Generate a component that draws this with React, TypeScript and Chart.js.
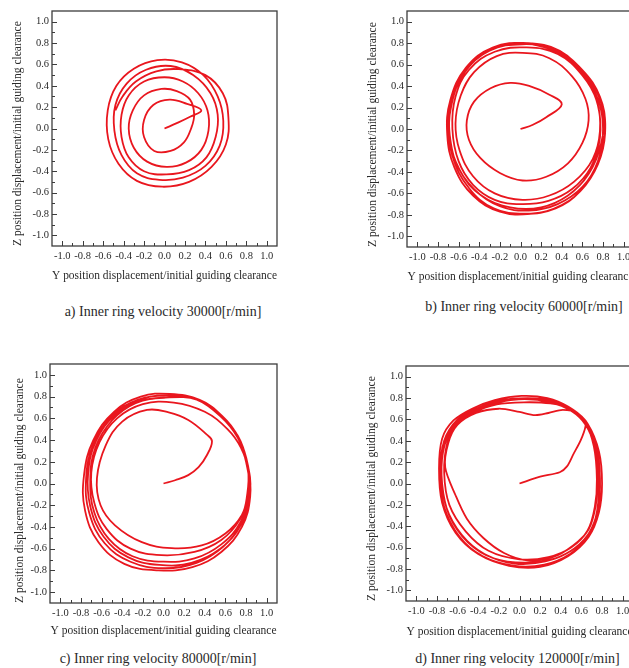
import React, { useEffect, useRef } from "react";
import { Chart, registerables } from "chart.js";

Chart.register(...registerables);

// ---------- data ----------
const TICK_VALUES = [-1.0, -0.8, -0.6, -0.4, -0.2, 0.0, 0.2, 0.4, 0.6, 0.8, 1.0];
const TICK_LABELS = ["-1.0", "-0.8", "-0.6", "-0.4", "-0.2", "0.0", "0.2", "0.4", "0.6", "0.8", "1.0"];
const MINOR_TICK_VALUES = [-0.9, -0.7, -0.5, -0.3, -0.1, 0.1, 0.3, 0.5, 0.7, 0.9];
const AXIS_MIN = -1.1;
const AXIS_MAX = 1.1;

const X_TITLE = "Y position displacement/initial guiding clearance";
const Y_TITLE = "Z position displacement/initial guiding clearance";
const CAPTIONS = [
  "a) Inner ring velocity 30000[r/min]",
  "b) Inner ring velocity 60000[r/min]",
  "c) Inner ring velocity 80000[r/min]",
  "d) Inner ring velocity 120000[r/min]",
];

// [Y displacement, Z displacement] pairs
const ORBIT_30000: [number, number][] = [
  [0, 0], [0.12, 0.05], [0.25, 0.11], [0.36, 0.17], [0.22, 0.23], [0.05, 0.27], [-0.11, 0.22],
  [-0.2, 0.08], [-0.2, -0.08], [-0.1, -0.21], [0.06, -0.21], [0.19, -0.13], [0.26, 0.0], [0.29, 0.13],
  [0.25, 0.27], [0.12, 0.35], [-0.03, 0.37], [-0.2, 0.31], [-0.31, 0.17], [-0.35, 0.0], [-0.3, -0.18],
  [-0.17, -0.31], [0.02, -0.36], [0.21, -0.32], [0.36, -0.2], [0.43, -0.02], [0.42, 0.17], [0.33, 0.33],
  [0.18, 0.44], [0.0, 0.48], [-0.2, 0.44], [-0.35, 0.31], [-0.42, 0.13], [-0.42, -0.08], [-0.35, -0.27],
  [-0.2, -0.4], [0.02, -0.43], [0.24, -0.39], [0.41, -0.27], [0.5, -0.08], [0.52, 0.13], [0.45, 0.33],
  [0.28, 0.5], [0.06, 0.585], [-0.18, 0.55], [-0.37, 0.42], [-0.48, 0.22], [-0.49, -0.02], [-0.42, -0.25],
  [-0.27, -0.42], [-0.05, -0.48], [0.18, -0.46], [0.4, -0.35], [0.54, -0.16], [0.575, 0.07], [0.52, 0.3],
  [0.38, 0.5], [0.17, 0.62], [-0.07, 0.64], [-0.3, 0.56], [-0.47, 0.4], [-0.555, 0.17], [-0.55, -0.1],
  [-0.45, -0.33], [-0.27, -0.49], [-0.02, -0.545], [0.24, -0.5], [0.46, -0.36], [0.6, -0.15], [0.625, 0.1],
  [0.57, 0.33], [0.4, 0.5], [0.14, 0.555], [-0.08, 0.535], [-0.28, 0.44], [-0.41, 0.3], [-0.48, 0.17],
];

const ORBIT_60000: [number, number][] = [
  [0, 0], [0.12, 0.04], [0.25, 0.11], [0.4, 0.23], [0.28, 0.32], [0.09, 0.4], [-0.1, 0.43], [-0.29, 0.38],
  [-0.45, 0.255], [-0.52, 0.08], [-0.5, -0.1], [-0.39, -0.27], [-0.2, -0.41], [0.02, -0.48], [0.25, -0.445],
  [0.46, -0.32], [0.6, -0.13], [0.66, 0.08], [0.63, 0.28], [0.5, 0.49], [0.28, 0.66], [0.02, 0.71],
  [-0.23, 0.68], [-0.45, 0.53], [-0.58, 0.31], [-0.63, 0.05], [-0.59, -0.2], [-0.46, -0.44], [-0.25, -0.6],
  [0.02, -0.66], [0.28, -0.62], [0.52, -0.49], [0.7, -0.28], [0.77, -0.02], [0.74, 0.26], [0.6, 0.5],
  [0.36, 0.7], [0.06, 0.76], [-0.25, 0.72], [-0.5, 0.55], [-0.63, 0.3], [-0.66, 0.0], [-0.6, -0.3],
  [-0.46, -0.52], [-0.25, -0.66], [0.0, -0.7], [0.27, -0.67], [0.5, -0.56], [0.68, -0.36], [0.77, -0.08],
  [0.75, 0.22], [0.62, 0.5], [0.38, 0.73], [0.06, 0.8], [-0.27, 0.76], [-0.53, 0.57], [-0.68, 0.27],
  [-0.71, -0.05], [-0.64, -0.36], [-0.46, -0.62], [-0.2, -0.77], [0.1, -0.79], [0.4, -0.71], [0.62, -0.53],
  [0.77, -0.27], [0.82, 0.02], [0.77, 0.3], [0.6, 0.55], [0.34, 0.74], [0.02, 0.79], [-0.3, 0.73],
  [-0.54, 0.53], [-0.67, 0.22], [-0.68, -0.1], [-0.58, -0.4], [-0.38, -0.62], [-0.1, -0.73], [0.2, -0.73],
  [0.46, -0.62], [0.66, -0.42], [0.78, -0.14], [0.8, 0.16], [0.68, 0.44], [0.45, 0.66], [0.16, 0.78],
  [-0.16, 0.78], [-0.44, 0.64], [-0.63, 0.4], [-0.7, 0.08], [-0.66, -0.25], [-0.5, -0.55], [-0.26, -0.74],
  [0.04, -0.79], [0.34, -0.74], [0.58, -0.58], [0.75, -0.33], [0.82, -0.04], [0.78, 0.26], [0.62, 0.52],
  [0.38, 0.72], [0.08, 0.8], [-0.24, 0.76], [-0.5, 0.58], [-0.66, 0.3], [-0.7, 0.0], [-0.63, -0.3],
  [-0.45, -0.56], [-0.2, -0.72], [0.08, -0.76], [0.36, -0.7], [0.6, -0.54], [0.75, -0.3], [0.8, 0.0],
  [0.75, 0.28], [0.6, 0.52], [0.34, 0.73],
];

const ORBIT_80000: [number, number][] = [
  [0, 0], [0.113, 0.03], [0.24, 0.077], [0.34, 0.15], [0.42, 0.26], [0.47, 0.39], [0.42, 0.45], [0.24, 0.585],
  [0.05, 0.655], [-0.16, 0.677], [-0.4, 0.57], [-0.56, 0.35], [-0.645, 0.05], [-0.61, -0.2], [-0.47, -0.385],
  [-0.21, -0.54], [0.08, -0.595], [0.37, -0.57], [0.6, -0.46], [0.76, -0.29], [0.81, -0.11], [0.82, 0.12],
  [0.75, 0.33], [0.62, 0.5], [0.4, 0.66], [0.1, 0.745], [-0.2, 0.73], [-0.45, 0.6], [-0.62, 0.38],
  [-0.7, 0.1], [-0.67, -0.18], [-0.55, -0.42], [-0.32, -0.6], [-0.02, -0.66], [0.3, -0.63], [0.56, -0.52],
  [0.74, -0.33], [0.83, -0.08], [0.81, 0.18], [0.72, 0.42], [0.55, 0.62], [0.3, 0.78], [0.04, 0.81],
  [-0.25, 0.77], [-0.5, 0.62], [-0.68, 0.36], [-0.75, 0.05], [-0.72, -0.27], [-0.57, -0.55], [-0.32, -0.72],
  [0.0, -0.78], [0.32, -0.73], [0.58, -0.58], [0.76, -0.36], [0.84, -0.08], [0.81, 0.2], [0.72, 0.44],
  [0.55, 0.63], [0.33, 0.77], [0.02, 0.79], [-0.27, 0.74], [-0.5, 0.58], [-0.66, 0.33], [-0.71, 0.03],
  [-0.67, -0.27], [-0.53, -0.51], [-0.3, -0.67], [0.0, -0.72], [0.3, -0.69], [0.56, -0.56], [0.75, -0.35],
  [0.83, -0.08], [0.8, 0.2], [0.71, 0.45], [0.57, 0.62], [0.35, 0.77], [0.06, 0.825], [-0.22, 0.8],
  [-0.48, 0.66], [-0.68, 0.4], [-0.77, 0.08], [-0.76, -0.25], [-0.63, -0.54], [-0.38, -0.74], [-0.05, -0.8],
  [0.28, -0.77], [0.56, -0.63], [0.76, -0.4], [0.84, -0.12], [0.82, 0.16], [0.73, 0.42], [0.57, 0.62],
  [0.35, 0.77], [0.08, 0.81], [-0.2, 0.78], [-0.46, 0.64], [-0.65, 0.4], [-0.73, 0.1], [-0.71, -0.21],
  [-0.58, -0.49], [-0.34, -0.68], [-0.04, -0.75], [0.27, -0.73], [0.55, -0.6], [0.75, -0.38], [0.83, -0.1],
  [0.82, 0.14],
];

const ORBIT_120000: [number, number][] = [
  [0, 0], [0.2, 0.064], [0.39, 0.105], [0.46, 0.16], [0.52, 0.27], [0.6, 0.42], [0.64, 0.56], [0.56, 0.66],
  [0.42, 0.69], [0.28, 0.66], [0.15, 0.64], [0.0, 0.67], [-0.2, 0.7], [-0.42, 0.66], [-0.6, 0.55],
  [-0.69, 0.38], [-0.72, 0.15], [-0.62, -0.11], [-0.51, -0.33], [-0.35, -0.51], [-0.15, -0.65], [0.08, -0.72],
  [0.32, -0.69], [0.52, -0.58], [0.67, -0.43], [0.74, -0.2], [0.76, 0.06], [0.73, 0.34], [0.64, 0.55],
  [0.5, 0.68], [0.3, 0.76], [0.05, 0.79], [-0.2, 0.76], [-0.44, 0.68], [-0.63, 0.56], [-0.73, 0.38],
  [-0.76, 0.1], [-0.71, -0.22], [-0.56, -0.48], [-0.34, -0.66], [-0.05, -0.75], [0.25, -0.73], [0.5, -0.63],
  [0.67, -0.47], [0.76, -0.24], [0.78, 0.05], [0.74, 0.36], [0.65, 0.57], [0.5, 0.7], [0.3, 0.75],
  [0.04, 0.76], [-0.22, 0.74], [-0.45, 0.66], [-0.61, 0.55], [-0.7, 0.38], [-0.73, 0.1], [-0.68, -0.2],
  [-0.52, -0.45], [-0.3, -0.63], [0.0, -0.71], [0.28, -0.69], [0.5, -0.6], [0.66, -0.44], [0.73, -0.22],
  [0.75, 0.04], [0.72, 0.35], [0.63, 0.58], [0.47, 0.72], [0.27, 0.8], [0.02, 0.82], [-0.24, 0.78],
  [-0.46, 0.7], [-0.64, 0.59], [-0.75, 0.42], [-0.78, 0.14], [-0.75, -0.18], [-0.62, -0.46], [-0.4, -0.66],
  [-0.1, -0.77], [0.2, -0.78], [0.47, -0.68], [0.67, -0.5], [0.77, -0.27], [0.8, 0.0], [0.77, 0.3],
  [0.66, 0.56], [0.52, 0.69], [0.32, 0.78], [0.08, 0.8], [-0.18, 0.78], [-0.42, 0.7], [-0.6, 0.6],
  [-0.73, 0.4], [-0.77, 0.1], [-0.73, -0.22], [-0.58, -0.5], [-0.36, -0.68], [-0.06, -0.77], [0.24, -0.76],
  [0.49, -0.66], [0.67, -0.49], [0.76, -0.27], [0.78, 0.02], [0.75, 0.32], [0.64, 0.56], [0.5, 0.7],
  [0.28, 0.77], [0.02, 0.79], [-0.25, 0.75], [-0.48, 0.66], [-0.65, 0.52], [-0.74, 0.3], [-0.75, 0.0],
  [-0.68, -0.3], [-0.5, -0.55], [-0.25, -0.7], [0.05, -0.74], [0.35, -0.7], [0.58, -0.57], [0.72, -0.38],
  [0.77, -0.1], [0.76, 0.2],
];

// ---------- layout / style ----------
const FONT_FAMILY = "'Liberation Serif', 'Times New Roman', serif";
const TEXT_COLOR = "#2a2a2a";
const AXIS_COLOR = "#3c3c3c";
const LINE_COLOR = "rgb(233, 22, 30)";

type PanelLayout = {
  orbit: [number, number][];
  caption: string;
  tension: number;
  left: number;
  top: number;
  width: number;
  height: number;
  areaL: number;
  areaT: number;
  areaR: number;
  areaB: number;
  yTitlePad: number;
  xTitlePad: number;
  capX: number;
  capY: number;
};

const PANELS: PanelLayout[] = [
  { orbit: ORBIT_30000, caption: CAPTIONS[0], tension: 0.4, left: 0, top: 0, width: 290, height: 292,
    areaL: 52, areaT: 11, areaR: 277, areaB: 246, yTitlePad: 11, xTitlePad: 9, capX: 163, capY: 311.5 },
  { orbit: ORBIT_60000, caption: CAPTIONS[1], tension: 0.4, left: 355, top: 0, width: 290, height: 292,
    areaL: 52, areaT: 11, areaR: 279, areaB: 247, yTitlePad: 11, xTitlePad: 8.4, capX: 524, capY: 306.7 },
  { orbit: ORBIT_80000, caption: CAPTIONS[2], tension: 0.4, left: 0, top: 352, width: 290, height: 292,
    areaL: 50, areaT: 12, areaR: 277, areaB: 251, yTitlePad: 13, xTitlePad: 6, capX: 158, capY: 659 },
  { orbit: ORBIT_120000, caption: CAPTIONS[3], tension: 0.3, left: 354, top: 352, width: 290, height: 292,
    areaL: 52, areaT: 14, areaR: 279, areaB: 249, yTitlePad: 10.8, xTitlePad: 5.4, capX: 517.5, capY: 659 },
];

const frameTicksPlugin = {
  id: "frameTicks",
  afterDraw(chart: any) {
    const { ctx, chartArea: a, scales } = chart;
    const xs = scales.x;
    const ys = scales.y;
    ctx.save();
    ctx.strokeStyle = AXIS_COLOR;
    ctx.lineWidth = 1;
    ctx.beginPath();
    const drawSet = (vals: number[], len: number) => {
      for (const v of vals) {
        const px = Math.round(xs.getPixelForValue(v)) + 0.5;
        ctx.moveTo(px, a.bottom);
        ctx.lineTo(px, a.bottom - len);
        const py = Math.round(ys.getPixelForValue(v)) + 0.5;
        ctx.moveTo(a.left, py);
        ctx.lineTo(a.left + len, py);
      }
    };
    drawSet(TICK_VALUES, 5);
    drawSet(MINOR_TICK_VALUES, 3);
    ctx.stroke();
    ctx.lineWidth = 1.3;
    ctx.strokeRect(a.left, a.top, a.right - a.left, a.bottom - a.top);
    ctx.restore();
  },
};

function setTicks(scale: any) {
  scale.ticks = TICK_VALUES.map((v) => ({ value: v }));
}

function tickLabel(value: any) {
  const i = TICK_VALUES.findIndex((t) => Math.abs(t - Number(value)) < 1e-6);
  return i >= 0 ? TICK_LABELS[i] : "";
}

function OrbitPanel({ p }: { p: PanelLayout }) {
  const ref = useRef<HTMLCanvasElement>(null);
  useEffect(() => {
    const canvas = ref.current;
    if (!canvas) return;
    const chart = new Chart(canvas, {
      type: "scatter",
      data: {
        datasets: [
          {
            data: p.orbit.map(([y, z]) => ({ x: y, y: z })),
            showLine: true,
            borderColor: LINE_COLOR,
            backgroundColor: LINE_COLOR,
            borderWidth: 1.8,
            pointRadius: 0,
            pointHoverRadius: 0,
            tension: p.tension,
            fill: false,
          },
        ],
      },
      options: {
        responsive: false,
        animation: false,
        devicePixelRatio: 1,
        layout: {
          padding: { left: 0, top: p.areaT, right: p.width - p.areaR, bottom: 0 },
        },
        plugins: {
          legend: { display: false },
          tooltip: { enabled: false },
        },
        events: [],
        scales: {
          x: {
            type: "linear",
            position: "bottom",
            min: AXIS_MIN,
            max: AXIS_MAX,
            afterBuildTicks: setTicks,
            afterFit: (s: any) => {
              s.height = p.height - p.areaB;
            },
            grid: { display: false, drawTicks: false },
            border: { display: false },
            ticks: {
              autoSkip: false,
              maxRotation: 0,
              minRotation: 0,
              padding: 4,
              color: TEXT_COLOR,
              font: { family: FONT_FAMILY, size: 10.5 },
              callback: tickLabel,
            },
            title: {
              display: true,
              text: X_TITLE,
              color: TEXT_COLOR,
              font: { family: FONT_FAMILY, size: 11.5, lineHeight: 1.2 },
              padding: { top: 0, bottom: p.xTitlePad },
            },
          },
          y: {
            type: "linear",
            position: "left",
            min: AXIS_MIN,
            max: AXIS_MAX,
            afterBuildTicks: setTicks,
            afterFit: (s: any) => {
              s.width = p.areaL;
            },
            grid: { display: false, drawTicks: false },
            border: { display: false },
            ticks: {
              autoSkip: false,
              padding: 3,
              color: TEXT_COLOR,
              font: { family: FONT_FAMILY, size: 10.5 },
              callback: tickLabel,
            },
            title: {
              display: true,
              text: Y_TITLE,
              align: "start",
              color: TEXT_COLOR,
              font: { family: FONT_FAMILY, size: 11.5, lineHeight: 1.2 },
              padding: { top: p.yTitlePad, bottom: 0 },
            },
          },
        },
      } as any,
      plugins: [frameTicksPlugin],
    });
    return () => chart.destroy();
  }, [p]);

  return (
    <>
      <canvas
        ref={ref}
        width={p.width}
        height={p.height}
        style={{ position: "absolute", left: p.left, top: p.top, width: p.width, height: p.height }}
      />
      <div
        style={{
          position: "absolute",
          left: p.capX - 160,
          top: p.capY - 8,
          width: 320,
          textAlign: "center",
          whiteSpace: "nowrap",
          fontFamily: FONT_FAMILY,
          fontSize: 14,
          lineHeight: "16px",
          color: TEXT_COLOR,
        }}
      >
        {p.caption}
      </div>
    </>
  );
}

export default function App() {
  return (
    <div
      style={{
        position: "fixed",
        left: 0,
        top: 0,
        width: 629,
        height: 668,
        overflow: "hidden",
        background: "#ffffff",
      }}
    >
      {PANELS.map((p, i) => (
        <OrbitPanel key={i} p={p} />
      ))}
    </div>
  );
}
